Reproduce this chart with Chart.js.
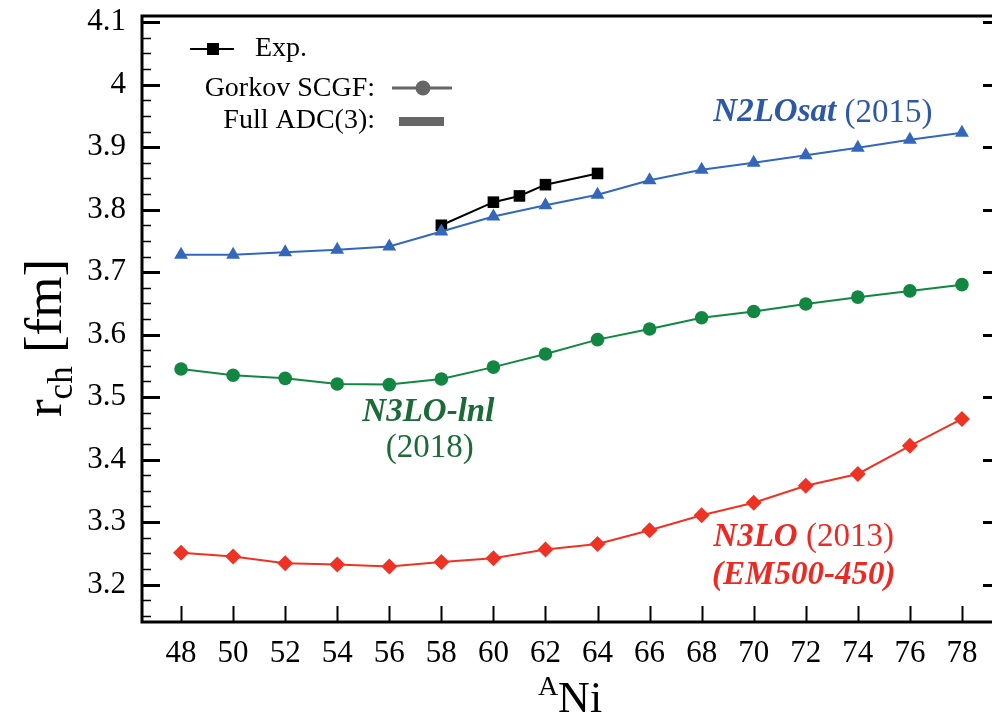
<!DOCTYPE html>
<html>
<head>
<meta charset="utf-8">
<script src="https://cdn.jsdelivr.net/npm/chart.js@4"></script>
<style>
  html, body { margin: 0; padding: 0; background: #fff; overflow: hidden; }
  #wrap { position: relative; width: 1012px; height: 722px; }
</style>
</head>
<body>
<div id="wrap"><canvas id="c"></canvas></div>
<script>
// Mass numbers of the nickel isotopes
const massNumbers = [48, 50, 52, 54, 56, 58, 60, 62, 64, 66, 68, 70, 72, 74, 76, 78];
// Experimental charge radii
const expMass = [58, 60, 61, 62, 64];
const expRadius = [3.775, 3.812, 3.822, 3.840, 3.858];
// Gorkov SCGF, full ADC(3), three interactions
const n2losat = [3.728, 3.728, 3.732, 3.736, 3.741, 3.765, 3.789, 3.807, 3.824, 3.847, 3.864, 3.875, 3.887, 3.899, 3.912, 3.923];
const n3loLnl = [3.545, 3.535, 3.530, 3.521, 3.520, 3.529, 3.548, 3.569, 3.592, 3.609, 3.627, 3.637, 3.649, 3.660, 3.670, 3.680];
const n3lo = [3.251, 3.245, 3.234, 3.232, 3.229, 3.236, 3.242, 3.256, 3.265, 3.287, 3.311, 3.331, 3.358, 3.377, 3.422, 3.465];
// Axis ticks
const xTicks = [48, 50, 52, 54, 56, 58, 60, 62, 64, 66, 68, 70, 72, 74, 76, 78];
const yTicks = [3.2, 3.3, 3.4, 3.5, 3.6, 3.7, 3.8, 3.9, 4.0, 4.1];

const SERIF = '"Liberation Serif", "Times New Roman", serif';
const BLUE = '#3467ba', BLUE_TXT = '#2d58a6';
const GREEN = '#128741', GREEN_TXT = '#1c6a38';
const RED = '#ee3325', RED_TXT = '#ec2a24';
const GREY = '#666666';

const pts = (xs, ys) => xs.map((x, i) => ({ x: x, y: ys[i] }));

// Rich text: a run of parts with their own weight / style
function richWidth(ctx, parts, size) {
  let w = 0;
  for (const p of parts) {
    ctx.font = (p.italic ? 'italic ' : '') + (p.bold ? 'bold ' : '') + size + 'px ' + SERIF;
    w += ctx.measureText(p.text).width;
  }
  return w;
}
function drawRich(ctx, parts, x, y, size, color, align) {
  const w = richWidth(ctx, parts, size);
  let cx = align === 'center' ? x - w / 2 : (align === 'right' ? x - w : x);
  ctx.fillStyle = color;
  ctx.textBaseline = 'middle';
  ctx.textAlign = 'left';
  for (const p of parts) {
    ctx.font = (p.italic ? 'italic ' : '') + (p.bold ? 'bold ' : '') + size + 'px ' + SERIF;
    ctx.fillText(p.text, cx, y);
    cx += ctx.measureText(p.text).width;
  }
}

// Curve labels, placed in data coordinates
const curveLabels = [
  { x: 68.45, y: 3.955, align: 'left', color: BLUE_TXT,
    parts: [{ text: 'N2LOsat', bold: true, italic: true }, { text: ' (2015)' }] },
  { x: 57.5, y: 3.475, align: 'center', color: GREEN_TXT,
    parts: [{ text: 'N3LO-lnl', bold: true, italic: true }] },
  { x: 57.55, y: 3.418, align: 'center', color: GREEN_TXT,
    parts: [{ text: '(2018)' }] },
  { x: 68.45, y: 3.276, align: 'left', color: RED_TXT,
    parts: [{ text: 'N3LO', bold: true, italic: true }, { text: ' (2013)' }] },
  { x: 68.4, y: 3.215, align: 'left', color: RED_TXT,
    parts: [{ text: '(EM500-450)', bold: true, italic: true }] }
];

const decorations = {
  id: 'decorations',
  afterDatasetsDraw(chart) {
    const ctx = chart.ctx;
    const { left, right, top, bottom } = chart.chartArea;
    const xs = chart.scales.x, ys = chart.scales.y;
    ctx.save();
    ctx.strokeStyle = '#000';
    ctx.lineCap = 'butt';

    // Ticks on the left and right edges (major every 0.1, minor every 0.025)
    for (let k = 0; ; k++) {
      const v = 3.1 + k * 0.025;
      if (v > ys.max + 1e-9) break;
      if (v < ys.min - 1e-9) continue;
      const major = Math.abs(v * 10 - Math.round(v * 10)) < 1e-6;
      const py = Math.round(ys.getPixelForValue(v)) + 0.5;
      const len = major ? 18 : 9;
      ctx.lineWidth = major ? 3 : 1.5;
      ctx.beginPath();
      ctx.moveTo(left, py); ctx.lineTo(left + len, py);
      ctx.moveTo(right, py); ctx.lineTo(right - len, py);
      ctx.stroke();
    }
    // Ticks on the bottom edge
    ctx.lineWidth = 2;
    for (const v of xTicks) {
      const px = Math.round(xs.getPixelForValue(v)) + 0.5;
      ctx.beginPath();
      ctx.moveTo(px, bottom); ctx.lineTo(px, bottom - 16);
      ctx.stroke();
    }
    // Frame
    ctx.lineWidth = 3;
    ctx.strokeRect(left, top, right - left, bottom - top);

    // Curve labels
    for (const l of curveLabels) {
      drawRich(ctx, l.parts, xs.getPixelForValue(l.x), ys.getPixelForValue(l.y), 33, l.color, l.align);
    }

    // Legend
    const lx = left, ly = top;
    ctx.fillStyle = '#000';
    ctx.lineWidth = 2;
    ctx.beginPath(); ctx.moveTo(lx + 48, ly + 33); ctx.lineTo(lx + 92, ly + 33); ctx.stroke();
    ctx.fillRect(lx + 65, ly + 27, 12, 12);
    drawRich(ctx, [{ text: 'Exp.' }], lx + 113, ly + 33, 28, '#000', 'left');

    drawRich(ctx, [{ text: 'Gorkov SCGF:' }], lx + 233, ly + 73, 28, '#000', 'right');
    ctx.strokeStyle = GREY; ctx.fillStyle = GREY; ctx.lineWidth = 3;
    ctx.beginPath(); ctx.moveTo(lx + 250, ly + 72); ctx.lineTo(lx + 310, ly + 72); ctx.stroke();
    ctx.beginPath(); ctx.arc(lx + 281, ly + 72, 7.5, 0, Math.PI * 2); ctx.fill();

    drawRich(ctx, [{ text: 'Full ADC(3):' }], lx + 233, ly + 105, 28, '#000', 'right');
    ctx.fillStyle = GREY;
    ctx.fillRect(lx + 257, ly + 101, 45, 9);

    // Axis titles
    ctx.fillStyle = '#000';
    ctx.textBaseline = 'alphabetic';
    ctx.textAlign = 'left';
    // x title: superscript A, then Ni
    ctx.font = '28px ' + SERIF;
    const wA = ctx.measureText('A').width;
    ctx.font = '44px ' + SERIF;
    const wNi = ctx.measureText('Ni').width;
    const tx = 570 - (wA + wNi) / 2;
    ctx.font = '28px ' + SERIF;
    ctx.fillText('A', tx, 695);
    ctx.font = '44px ' + SERIF;
    ctx.fillText('Ni', tx + wA, 712);

    // y title, rotated: r_ch [fm]
    ctx.translate(61, 338);
    ctx.rotate(-Math.PI / 2);
    ctx.font = '53px ' + SERIF;
    const wr = ctx.measureText('r').width;
    const wfm = ctx.measureText(' [fm]').width;
    ctx.font = '35px ' + SERIF;
    const wch = ctx.measureText('ch').width;
    let ox = -(wr + wch + wfm) / 2;
    ctx.font = '53px ' + SERIF;
    ctx.fillText('r', ox, 0);
    ctx.font = '35px ' + SERIF;
    ctx.fillText('ch', ox + wr, 11);
    ctx.font = '53px ' + SERIF;
    ctx.fillText(' [fm]', ox + wr + wch, 0);
    ctx.restore();
  }
};

new Chart(document.getElementById('c'), {
  type: 'scatter',
  data: {
    datasets: [
      { label: 'Exp.', data: pts(expMass, expRadius), showLine: true, order: 3,
        borderColor: '#000', backgroundColor: '#000', borderWidth: 2,
        pointStyle: 'rect', pointRadius: 8.2, pointBorderWidth: 0 },
      { label: 'N2LOsat', data: pts(massNumbers, n2losat), showLine: true, order: 1,
        borderColor: BLUE, backgroundColor: BLUE, borderWidth: 2,
        pointStyle: 'triangle', pointRadius: 8, pointBorderWidth: 0 },
      { label: 'N3LO-lnl', data: pts(massNumbers, n3loLnl), showLine: true, order: 2,
        borderColor: GREEN, backgroundColor: GREEN, borderWidth: 2,
        pointStyle: 'circle', pointRadius: 6.8, pointBorderWidth: 0 },
      { label: 'N3LO', data: pts(massNumbers, n3lo), showLine: true, order: 2,
        borderColor: RED, backgroundColor: RED, borderWidth: 2,
        pointStyle: 'rectRot', pointRadius: 8, pointBorderWidth: 0 }
    ]
  },
  options: {
    responsive: true,
    maintainAspectRatio: false,
    animation: false,
    layout: { padding: { top: 16, right: 11, left: 0, bottom: 0 } },
    plugins: { legend: { display: false }, tooltip: { enabled: false } },
    scales: {
      x: {
        type: 'linear', min: 46.5, max: 79.5,
        afterFit: s => { s.height = 100; s.paddingLeft = 0; s.paddingRight = 0; },
        afterBuildTicks: s => { s.ticks = xTicks.map(v => ({ value: v })); },
        grid: { display: false, drawTicks: false },
        border: { display: false },
        ticks: { color: '#000', padding: 13, maxRotation: 0, autoSkip: false,
          font: { family: SERIF, size: 31 }, callback: v => String(v) }
      },
      y: {
        type: 'linear', min: 3.14, max: 4.11,
        afterFit: s => { s.width = 142; s.paddingTop = 0; s.paddingBottom = 0; },
        afterBuildTicks: s => { s.ticks = yTicks.map(v => ({ value: v })); },
        grid: { display: false, drawTicks: false },
        border: { display: false },
        ticks: { color: '#000', padding: 16, autoSkip: false,
          font: { family: SERIF, size: 31 }, callback: v => String(Math.round(v * 10) / 10) }
      }
    }
  },
  plugins: [decorations]
});
</script>
</body>
</html>
